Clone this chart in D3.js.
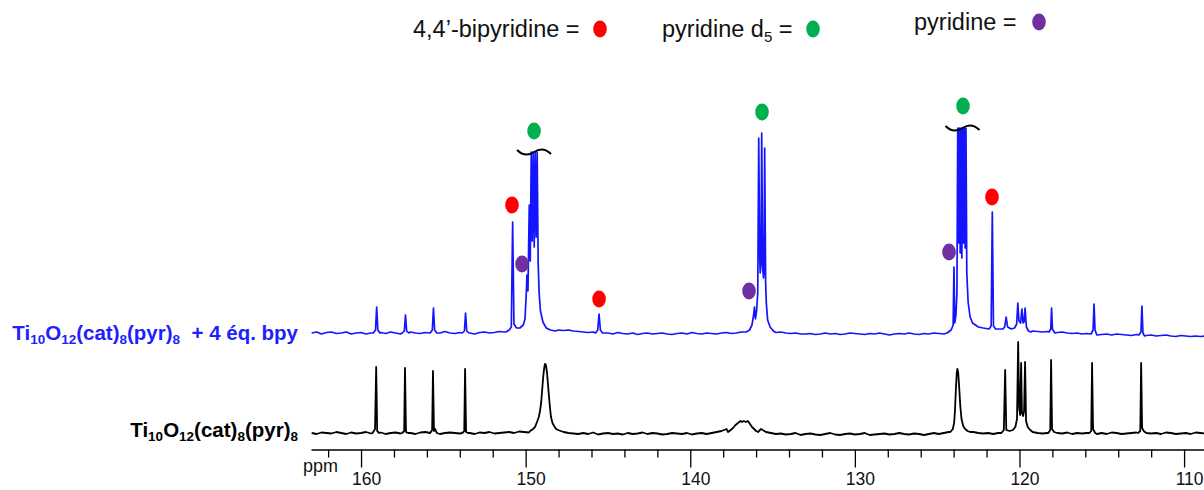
<!DOCTYPE html>
<html><head><meta charset="utf-8">
<script src="https://cdn.jsdelivr.net/npm/d3@7"></script>
<style>
html,body{margin:0;padding:0;background:#fff;}
svg{display:block;font-family:"Liberation Sans",Arial,Helvetica,sans-serif;}
</style>
</head><body>
<svg id="c" width="1204" height="490"></svg>
<script>
// ---------- axis ----------
const majorTicks = [160, 150, 140, 130, 120, 110];
const tickLabels = ["160", "150", "140", "130", "120", "110"];
const minorTicks = [162, 158, 156, 154, 152, 148, 146, 144, 142, 138, 136, 134, 132, 128, 126, 124, 122, 118, 116, 114, 112];

// ---------- baseline noise, one value every 0.3 ppm from 163 ppm ----------
const noiseStart = 163, noiseStep = 0.3;
const blueNoise = [
  0, 1, -1, 0.5, 1, -0.5, 0, 1, -1, 0,
  0.5, -1, 0, 1, 0.5, -0.5, 1, 0, -1, 0.5,
  1, 0, -0.5, 0.5, 1, -1, 0, 1.5, 0, -0.5,
  0.5, 1, 0, -1, 0.5, 1, 0, 0.5, 1.5, 1,
  0, 1, 2, 1, 1.5, 2, 1, 2, 1.5, 2.5,
  3, 2.5, 3, 2, 1.5, 1, 0.5, 1, 0, -0.5,
  0, -1, 0.5, -0.5, -1, 0, -1.5, -0.5, 0, -1,
  -0.5, 0, -1, -1.5, -0.5, 0, -1, 0.5, -0.5, -1,
  0, -0.5, -1, 0, 0.5, -0.5, 0, 1, 0.5, 1,
  1.5, 1, 2, 1, 0.5, 1, 0, -0.5, 0, -1,
  -1, -0.5, -1.5, -1, 0, -1, -0.5, -1.5, -1, 0,
  -0.5, -1, -1.5, -0.5, -1, 0, -1, -2, -1, -0.5,
  -1, 0, -1, -1.5, -0.5, -1, 0, -0.5, -1, 0,
  0, 1, 2, 3, 4, 5, 4, 5, 4, 4,
  5, 4, 3, 2, 3, 2.5, 2, 1.5, 1, 1.5,
  1, 0.5, 1, 0, -0.5, 0, -1, -0.5, 0, -1,
  -1.5, -1, -2, -1, -1.5, -2, -2.5, -1.5, -2, -2.5,
  -2, -3, -2.5, -2, -3, -3.5, -2.5, -3, -3.5, -3, -3.5, -3
];
const blackNoise = [
  0, -1, 0.5, 0, -0.5, 1, 0, -1, 0.5, -0.5,
  0, 1, -0.5, 0, 0.5, -1, 0, 0.5, -0.5, 1,
  0, -1, 0.5, 1, 0, -0.5, -1, 0, 0.5, 0,
  -0.5, 1, 0, -1, 0.5, 0, 1, -0.5, 0, 0.5,
  1, 0, 1.5, 1, 0.5, 1, 2, 2, 3, 2,
  2, 1, 0, -0.5, -1, 0, -1, 0.5, -1.5, -0.5,
  0, -1, -0.5, -1.5, 0, -1, -0.5, 0.5, -1, 0,
  -0.5, -1.5, -1, 0, -0.5, -1, 0, -1.5, -0.5, 0,
  -1, 0, 1, 2, 4, 6, 9, 10, 11, 10,
  8, 4, 1, 0, -1, -0.5, -1.5, -1, 0, -2,
  -1, -0.5, -1.5, -2, -1, 0, -1.5, -2, -1, -0.5,
  -1.5, -1, 0, -2, -1.5, -1, -0.5, -1.5, -1, 0,
  -1, -1.5, -0.5, -1, -2, -1, 0, -1, 0, 1,
  2, 3, 4, 3, 1, 0, -0.5, 0, -1, 0,
  0.5, 1, 2, 3, 2, 1, 0.5, 0, -0.5, 0,
  -1, 0, -0.5, 0.5, -1, 0, -0.5, 0, 0.5, -1,
  0, -1, 0.5, 0, -1, -0.5, 0, 0.5, -1, 0,
  -0.5, 0, -1, 0.5, 0, -1, -0.5, 0, -1, 0.5, 0, -0.5
];

// ---------- peaks: [ppm, intensity] ----------
// Ti10O12(cat)8(pyr)8 + 4 eq. bpy (blue)
const bluePeaks = [
  [[159.25, 0], [159.12, 3], [159.05, 26], [158.98, 3], [158.85, 0]],
  [[157.5, 0], [157.37, 2], [157.3, 18], [157.23, 2], [157.1, 0]],
  [[155.8, 0], [155.67, 3], [155.6, 25], [155.53, 3], [155.4, 0]],
  [[153.85, 0], [153.72, 2], [153.65, 20], [153.58, 2], [153.45, 0]],
  [[151.2, 1], [151.0, 3], [150.87, 6], [150.79, 111], [150.71, 9], [150.55, 5], [150.35, 5], [150.15, 8],
   [150.04, 14], [149.96, 40], [149.92, 58], [149.86, 42], [149.78, 128], [149.72, 72], [149.66, 181],
   [149.6, 92], [149.54, 181], [149.48, 86], [149.42, 181], [149.36, 96], [149.3, 181], [149.24, 70],
   [149.18, 40], [149.1, 22], [148.95, 11], [148.75, 5], [148.5, 3], [148.2, 2]],
  [[145.75, 0], [145.62, 3], [145.54, 19], [145.46, 3], [145.33, 0]],
  [[136.6, 1], [136.4, 3], [136.25, 8], [136.15, 18], [136.1, 26], [136.04, 14], [135.97, 22], [135.9, 40],
   [135.84, 195], [135.78, 75], [135.75, 60], [135.7, 70], [135.66, 200], [135.6, 65], [135.55, 55],
   [135.52, 60], [135.48, 185], [135.42, 50], [135.38, 30], [135.3, 13], [135.15, 6], [134.95, 2]],
  [[124.4, 0], [124.15, 3], [124.03, 8], [123.98, 66], [123.93, 10], [123.86, 18], [123.8, 40],
   [123.75, 205], [123.7, 90], [123.65, 205], [123.6, 80], [123.55, 205], [123.5, 75], [123.45, 205],
   [123.4, 90], [123.35, 205], [123.3, 85], [123.25, 205], [123.2, 60], [123.12, 31], [123.0, 16],
   [122.85, 10], [122.5, 6], [122.2, 5], [121.85, 4], [121.72, 7], [121.65, 121], [121.58, 7],
   [121.45, 4], [121.2, 4], [121.0, 4], [120.9, 6], [120.81, 16], [120.72, 6], [120.5, 4], [120.3, 5],
   [120.17, 9], [120.1, 30], [120.03, 12], [119.93, 10], [119.85, 24], [119.78, 10], [119.72, 11],
   [119.66, 25], [119.58, 6], [119.45, 2], [119.3, 1]],
  [[118.2, 1], [118.1, 4], [118.05, 25], [118.0, 4], [117.85, 0]],
  [[115.65, -1], [115.53, 3], [115.47, 29], [115.41, 3], [115.3, -2]],
  [[112.75, -2], [112.62, 1], [112.56, 27], [112.5, 0], [112.4, -3]]
];
// Ti10O12(cat)8(pyr)8 (black)
const blackPeaks = [
  [[159.3, 0], [159.15, 4], [159.08, 66], [159.02, 2], [158.9, 0]],
  [[157.5, 0], [157.38, 2], [157.33, 65], [157.27, 1], [157.15, 0]],
  [[155.8, 0], [155.68, 3], [155.63, 62], [155.57, 2], [155.5, 4], [155.4, 0]],
  [[153.85, 0], [153.73, 2], [153.68, 64], [153.62, 1], [153.5, 0]],
  [[149.73, 2], [149.55, 4], [149.43, 6], [149.31, 11], [149.2, 16], [149.13, 22], [149.06, 30], [149.0, 42],
   [148.94, 55], [148.88, 64], [148.83, 69], [148.77, 68], [148.7, 60], [148.64, 48], [148.58, 36],
   [148.52, 25], [148.46, 16], [148.37, 10], [148.27, 7], [148.15, 4], [148.03, 3]],
  [[137.7, 1], [137.55, 3], [137.4, 5], [137.25, 8], [137.1, 10], [136.95, 12], [136.85, 11], [136.75, 12],
   [136.61, 11], [136.5, 12], [136.37, 9], [136.25, 6], [136.12, 4], [136.0, 2], [135.88, 1]],
  [[124.2, 1], [124.05, 4], [123.97, 10], [123.92, 22], [123.86, 45], [123.81, 60], [123.77, 64],
   [123.72, 60], [123.66, 45], [123.6, 28], [123.52, 14], [123.42, 7], [123.3, 4], [123.15, 2], [123.0, 1]],
  [[121.1, 0], [120.95, 3], [120.87, 63], [120.8, 3], [120.6, 2], [120.4, 3], [120.25, 6], [120.15, 14],
   [120.08, 91], [120.02, 25], [119.96, 18], [119.9, 70], [119.85, 20], [119.78, 17], [119.72, 22],
   [119.66, 71], [119.6, 12], [119.5, 6], [119.35, 3], [119.2, 1]],
  [[118.25, 0], [118.13, 3], [118.08, 73], [118.02, 4], [117.9, 1]],
  [[115.75, 0], [115.64, 2], [115.59, 70], [115.53, 4], [115.4, 0]],
  [[112.8, 0], [112.66, 2], [112.61, 70], [112.55, 5], [112.45, 2], [112.3, 0]]
];
const blueOffset = 100;

// ---------- assignment markers: [ppm, intensity level] ----------
const bpyMarks = [[150.83, 228], [145.54, 134], [121.67, 236]];
const pyrD5Marks = [[149.49, 302], [135.64, 321], [123.43, 327]];
const pyrMarks = [[150.22, 169], [136.43, 142], [124.28, 181]];
const cutMarks = [[149.49, 281], [123.46, 305]];

const legendItems = [
  {label: "4,4\u2019-bipyridine = ", sub: null, tail: null, color: "#ff0000"},
  {label: "pyridine d", sub: "5", tail: " = ", color: "#00b050"},
  {label: "pyridine = ", sub: null, tail: null, color: "#7030a0"}
];

// ================= drawing =================
const svg = d3.select("#c");
const x = d3.scaleLinear().domain([163.04, 108.79]).range([311, 1204]);
const y = d3.scaleLinear().domain([0, 100]).range([433, 333]);

function buildTrace(noise, groups) {
  const regions = groups.map(g => [d3.min(g, d => d[0]), d3.max(g, d => d[0])]);
  const pts = [];
  noise.forEach((v, i) => {
    const p = noiseStart - noiseStep * i;
    if (!regions.some(r => p >= r[0] - 0.04 && p <= r[1] + 0.04)) pts.push([p, v]);
  });
  groups.forEach(g => g.forEach(d => pts.push(d)));
  pts.sort((a, b) => b[0] - a[0]);
  return pts;
}

svg.append("clipPath").attr("id", "clip").append("rect")
  .attr("x", 305).attr("y", 0).attr("width", 899).attr("height", 450);

const blueData = buildTrace(blueNoise, bluePeaks);
const blackData = buildTrace(blackNoise, blackPeaks);

const lineBlue = d3.line().x(d => x(d[0])).y(d => y(d[1] + blueOffset));
const lineBlack = d3.line().x(d => x(d[0])).y(d => y(d[1]));

svg.append("path").attr("clip-path", "url(#clip)").datum(blackData)
  .attr("d", lineBlack).attr("fill", "none").attr("stroke", "#000")
  .attr("stroke-width", 1.8).attr("stroke-linejoin", "round");
svg.append("path").attr("clip-path", "url(#clip)").datum(blueData)
  .attr("d", lineBlue).attr("fill", "none").attr("stroke", "#1414ff")
  .attr("stroke-width", 1.7).attr("stroke-linejoin", "round");

// cut brackets
svg.selectAll("path.cut").data(cutMarks).join("path").attr("class", "cut")
  .attr("transform", d => `translate(${x(d[0])},${y(d[1])})`)
  .attr("d", "M-17,-2 Q-9,6 0,0 Q9,-6 17,2")
  .attr("fill", "none").attr("stroke", "#000").attr("stroke-width", 2);

// markers
function dots(data, color) {
  svg.append("g").selectAll("ellipse").data(data).join("ellipse")
    .attr("cx", d => x(d[0])).attr("cy", d => y(d[1]))
    .attr("rx", 6.8).attr("ry", 8.5).attr("fill", color);
}
dots(bpyMarks, "#ff0000");
dots(pyrD5Marks, "#00b050");
dots(pyrMarks, "#7030a0");

// axis
const axisG = svg.append("g").attr("transform", "translate(0,449.5)");
axisG.call(d3.axisBottom(x).tickValues(majorTicks).tickSize(18).tickSizeOuter(0)
  .tickFormat((d, i) => tickLabels[i]));
axisG.selectAll("text").attr("y", 35.5).attr("dy", 0).attr("dx", 5)
  .attr("font-size", 17.5).attr("font-family", '"Liberation Sans",Arial,sans-serif').attr("fill", "#111");
const minorG = svg.append("g").attr("transform", "translate(0,449.5)");
minorG.call(d3.axisBottom(x).tickValues(minorTicks).tickSize(8).tickFormat(""));
minorG.select(".domain").remove();
svg.selectAll(".tick line, .domain").attr("stroke", "#000").attr("stroke-width", 1.3);
svg.append("text").attr("x", 303).attr("y", 472).attr("font-size", 18).attr("fill", "#111").text("ppm");

// spectrum labels
function specLabel(xEnd, yBase, color, tail) {
  const t = svg.append("text").attr("x", xEnd).attr("y", yBase).attr("text-anchor", "end")
    .attr("font-weight", "bold").attr("font-size", 20.5).attr("fill", color)
    .attr("xml:space", "preserve");
  const parts = [["Ti", 0], ["10", 1], ["O", 0], ["12", 1], ["(cat)", 0], ["8", 1], ["(pyr)", 0], ["8", 1]];
  if (tail) parts.push([tail, 0]);
  let prevSub = 0;
  parts.forEach(([s, sub]) => {
    const ts = t.append("tspan").text(s);
    if (sub) ts.attr("font-size", 13.5);
    const dy = (sub ? 4 : 0) - (prevSub ? 4 : 0);
    if (dy) ts.attr("dy", dy);
    prevSub = sub;
  });
}
specLabel(298, 340, "#1e1eff", "\u00a0\u00a0+ 4 \u00e9q. bpy");
specLabel(298, 437, "#000", null);

// legend
const legendPos = [[413, 37, 600, 29], [662, 37, 813, 29], [914, 30, 1039, 22]];
legendItems.forEach((it, i) => {
  const [tx, ty, dx, dy] = legendPos[i];
  const t = svg.append("text").attr("x", tx).attr("y", ty).attr("font-size", 23.5).attr("fill", "#111")
    .attr("xml:space", "preserve");
  t.append("tspan").text(it.label);
  if (it.sub) {
    t.append("tspan").attr("font-size", 15).attr("dy", 5).text(it.sub);
    t.append("tspan").attr("dy", -5).text(it.tail);
  }
  svg.append("ellipse").attr("cx", dx).attr("cy", dy).attr("rx", 6.8).attr("ry", 8.5).attr("fill", it.color);
});
</script>
</body></html>
